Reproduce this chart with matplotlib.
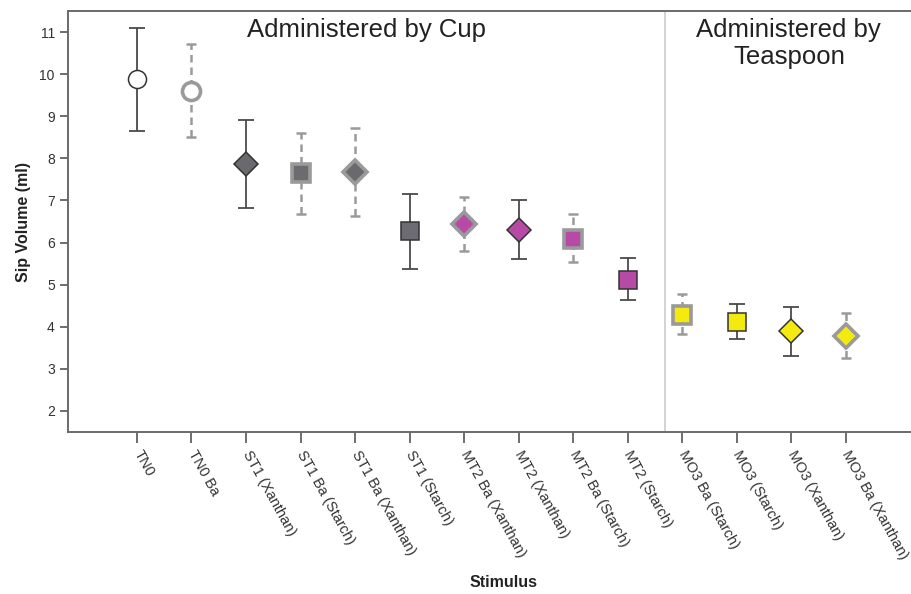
import numpy as np
import matplotlib.pyplot as plt

plt.rcParams['font.family'] = ['Liberation Sans', 'DejaVu Sans']

# data
stimuli = ['TN0', 'TN0 Ba', 'ST1 (Xanthan)', 'ST1 Ba (Starch)', 'ST1 Ba (Xanthan)',
           'ST1 (Starch)', 'MT2 Ba (Xanthan)', 'MT2 (Xanthan)', 'MT2 Ba (Starch)',
           'MT2 (Starch)', 'MO3 Ba (Starch)', 'MO3 (Starch)', 'MO3 (Xanthan)',
           'MO3 Ba (Xanthan)']
means = [9.88, 9.60, 7.86, 7.65, 7.67, 6.28, 6.45, 6.29, 6.09, 5.12, 4.29, 4.11, 3.89, 3.77]
lower = [8.65, 8.51, 6.81, 6.68, 6.64, 5.38, 5.79, 5.60, 5.53, 4.63, 3.83, 3.70, 3.30, 3.25]
upper = [11.10, 10.72, 8.92, 8.61, 8.73, 7.16, 7.09, 7.01, 6.68, 5.64, 4.77, 4.53, 4.48, 4.32]
shapes = ['o', 'o', 'D', 's', 'D', 's', 'D', 'D', 's', 's', 's', 's', 'D', 'D']
fills = ['white', 'white', '#6a6a6e', '#6c6c70', '#6a6a6e', '#6c6c72',
         '#b64aa6', '#b64aa6', '#b64aa6', '#b64aa6',
         '#f4ea10', '#f4ea10', '#f4ea10', '#f4ea10']
barium = [s.split(' ')[1:2] == ['Ba'] for s in stimuli]

fig = plt.figure(figsize=(9.12, 5.94), dpi=100)
ax = fig.add_axes([68 / 912, 1 - 432 / 594, 1 - 68 / 912, (432 - 11) / 594])

x = np.arange(len(stimuli))
for i in x:
    ba = barium[i]
    ecol = '#9a9a9a' if ba else '#4a4a4a'
    el = ax.errorbar(i, means[i], yerr=[[means[i] - lower[i]], [upper[i] - means[i]]],
                     fmt='none', ecolor=ecol, elinewidth=1.8 if ba else 1.3,
                     capsize=3.5 if ba else 5.5, capthick=1.8 if ba else 1.3, zorder=2)
    if ba:
        el[2][0].set_linestyle((0, (3, 2)))
    ms = {'o': 13, 'D': 12, 's': 12.5}[shapes[i]]
    ax.plot(i, means[i], marker=shapes[i], markersize=ms, linestyle='none',
            markerfacecolor=fills[i],
            markeredgecolor='#9a9a9a' if ba else '#333333',
            markeredgewidth=2.6 if ba else 1.1, zorder=3)

ax.axvline(9.68, color='#c8c8c8', lw=1.1, zorder=1)

ax.set_xlim(-1.266, 14.22)
ax.set_ylim(1.5, 11.5)
ax.set_yticks(range(2, 12))
ax.set_xticks(x)
ax.set_xticklabels(stimuli, rotation=-61, rotation_mode='anchor', ha='left', va='center',
                   fontsize=10.5, color='#333333')
ax.tick_params(axis='x', length=8, width=1.2, color='#555555', pad=6)
ax.tick_params(axis='y', length=6, width=1.2, color='#555555', labelsize=10, labelcolor='#333333')

for side in ['left', 'top', 'bottom']:
    ax.spines[side].set_color('#6a6a6a')
    ax.spines[side].set_linewidth(1.4)
ax.spines['right'].set_visible(False)

ax.set_ylabel('Sip Volume (ml)', fontsize=11.5, fontweight='bold', color='#222222', labelpad=6)
ax.set_xlabel('Stimulus', fontsize=11.5, fontweight='bold', color='#222222')
ax.xaxis.set_label_coords(0.516, -0.34)

ax.text(4.22, 11.05, 'Administered by Cup', ha='center', va='center', fontsize=18.5, color='#222222')
ax.text(11.96, 10.73, 'Administered by\nTeaspoon', ha='center', va='center', fontsize=18.5,
        color='#222222', linespacing=1.2)

fig.savefig('out.png', dpi=100)
